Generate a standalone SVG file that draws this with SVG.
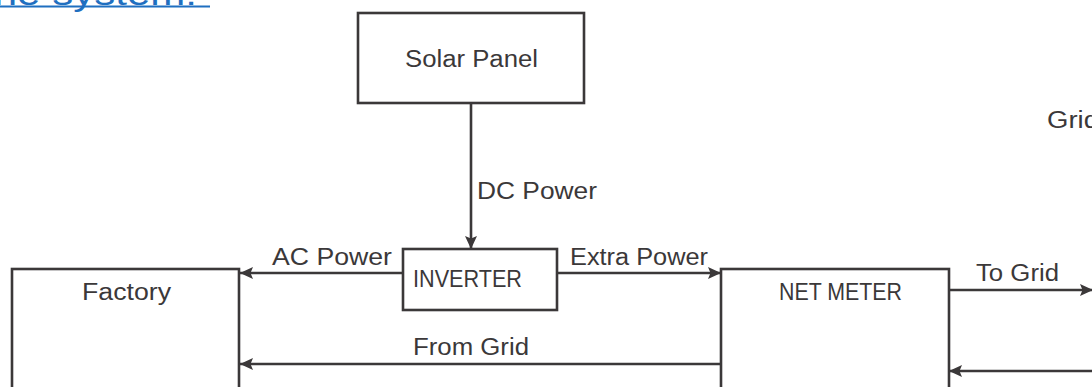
<svg xmlns="http://www.w3.org/2000/svg" width="1092" height="387" viewBox="0 0 1092 387">
<style>
.box{fill:#fff;stroke:#3b3839;stroke-width:2.6}
.ln{fill:none;stroke:#3b3839;stroke-width:2.6}
.t{font-family:"Liberation Sans",Arial,sans-serif;font-size:23px;fill:#3b3839}
.hd{font-family:"Liberation Sans",Arial,sans-serif;font-size:34px;fill:#1f6fc0}
</style>
<defs>
<marker id="ah" viewBox="0 0 13 12" refX="13" refY="6" markerWidth="13" markerHeight="12" markerUnits="userSpaceOnUse" orient="auto">
<path d="M0,0 L13,6 L0,12 L2.5,6 Z" fill="#3b3839"/>
</marker>
</defs>
<rect width="1092" height="387" fill="#fff"/>
<g id="header">
<text class="hd" x="-32" y="4.5" textLength="229" lengthAdjust="spacingAndGlyphs">The system:</text>
<line x1="0" y1="6.5" x2="210" y2="6.5" stroke="#1f6fc0" stroke-width="2.2"/>
</g>
<g id="solar-panel">
<rect class="box" x="358" y="13" width="226" height="90"/>
<text class="t" x="405" y="67" textLength="133" lengthAdjust="spacingAndGlyphs">Solar Panel</text>
</g>
<g id="inverter">
<rect class="box" x="403" y="249" width="154" height="61"/>
<text class="t" x="413" y="287" textLength="109" lengthAdjust="spacingAndGlyphs">INVERTER</text>
</g>
<g id="factory">
<rect class="box" x="12" y="269" width="227" height="140"/>
<text class="t" x="82" y="300" textLength="89" lengthAdjust="spacingAndGlyphs">Factory</text>
</g>
<g id="net-meter">
<rect class="box" x="721" y="269" width="228" height="140"/>
<text class="t" x="779" y="300" textLength="123" lengthAdjust="spacingAndGlyphs">NET METER</text>
</g>
<g id="grid">
<text class="t" x="1047" y="128" textLength="52" lengthAdjust="spacingAndGlyphs">Grid</text>
</g>
<g id="connectors">
<line class="ln" x1="471" y1="103" x2="471" y2="249" marker-end="url(#ah)"/>
<line class="ln" x1="403" y1="273" x2="240" y2="273" marker-end="url(#ah)"/>
<line class="ln" x1="557" y1="273" x2="721" y2="273" marker-end="url(#ah)"/>
<line class="ln" x1="949" y1="290" x2="1093" y2="290" marker-end="url(#ah)"/>
<line class="ln" x1="721" y1="364" x2="240" y2="364" marker-end="url(#ah)"/>
<line class="ln" x1="1100" y1="371" x2="949" y2="371" marker-end="url(#ah)"/>
<text class="t" x="477" y="199" textLength="120" lengthAdjust="spacingAndGlyphs">DC Power</text>
<text class="t" x="272" y="265" textLength="120" lengthAdjust="spacingAndGlyphs">AC Power</text>
<text class="t" x="570" y="265" textLength="138" lengthAdjust="spacingAndGlyphs">Extra Power</text>
<text class="t" x="976" y="281" textLength="83" lengthAdjust="spacingAndGlyphs">To Grid</text>
<text class="t" x="413" y="355" textLength="116" lengthAdjust="spacingAndGlyphs">From Grid</text>
</g>
</svg>
